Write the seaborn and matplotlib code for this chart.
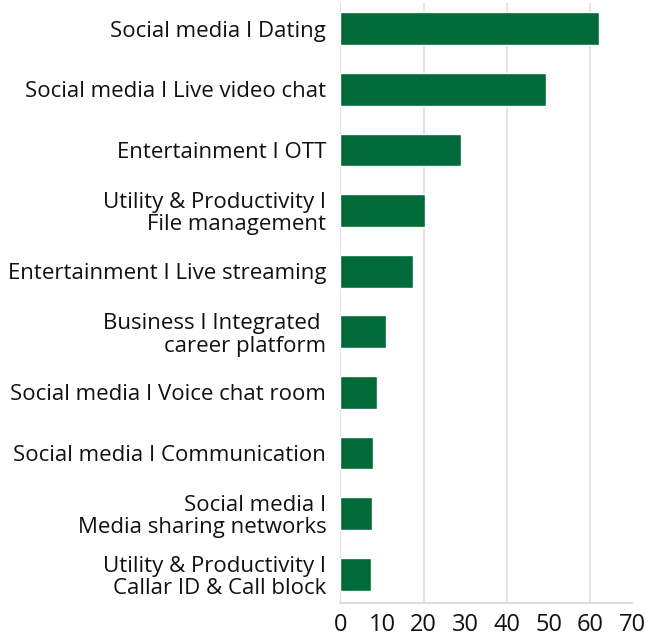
import matplotlib
matplotlib.use("Agg")
import matplotlib.pyplot as plt
import seaborn as sns
import pandas as pd

categories = [
    "Social media I Dating",
    "Social media I Live video chat",
    "Entertainment I OTT",
    "Utility & Productivity I\nFile management",
    "Entertainment I Live streaming",
    "Business I Integrated \ncareer platform",
    "Social media I Voice chat room",
    "Social media I Communication",
    "Social media I\nMedia sharing networks",
    "Utility & Productivity I\nCallar ID & Call block",
]
values = [62, 49.4, 29, 20.4, 17.5, 11, 8.9, 7.9, 7.7, 7.4]
x_ticks = [0, 10, 20, 30, 40, 50, 60, 70]

df = pd.DataFrame({"category": categories, "value": values})

sns.set_style("white")
plt.rcParams["font.family"] = ["Open Sans", "DejaVu Sans"]

fig = plt.figure(figsize=(6.53, 6.42), dpi=100)
ax = fig.add_axes([0.521, 0.061, 0.447, 0.934])

sns.barplot(data=df, x="value", y="category", color="#006a38", width=0.54,
            saturation=1, ax=ax, zorder=3)

ax.set_xlim(0, 70)
ax.set_ylim(9.47, -0.42)
ax.set_xticks(x_ticks)
for g in [0, 20, 40, 60]:
    ax.axvline(g, color="#e0e0e0", lw=1.3, zorder=1)

for s in ["top", "right", "left"]:
    ax.spines[s].set_visible(False)
ax.spines["bottom"].set_color("#d9d9d9")
ax.spines["bottom"].set_linewidth(1.3)

ax.tick_params(axis="x", labelsize=17, colors="#111111", length=0, pad=7)
ax.tick_params(axis="y", labelsize=16, colors="#111111", length=0, pad=10)
for lbl in ax.get_yticklabels():
    lbl.set_linespacing(1.08)
ax.set_xlabel("")
ax.set_ylabel("")

fig.savefig("out.png", dpi=100)
plt.close(fig)
